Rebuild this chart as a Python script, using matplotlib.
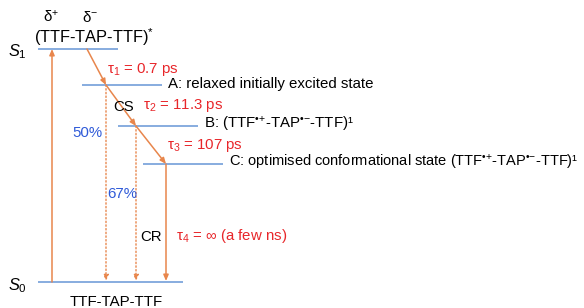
import matplotlib
matplotlib.use("Agg")
import matplotlib.pyplot as plt

plt.rcParams['font.family'] = ['Liberation Sans', 'DejaVu Sans']
plt.rcParams['mathtext.fontset'] = 'custom'
plt.rcParams['mathtext.rm'] = 'Liberation Sans'
plt.rcParams['mathtext.it'] = 'Liberation Sans:italic'
plt.rcParams['mathtext.bf'] = 'Liberation Sans:bold'

# ---- data: energy levels (energy in arbitrary units, horizontal extent) ----
level_names = ["S1", "A", "B", "C", "S0"]
level_energy = [233, 197, 156, 118, 0]
level_x0 = [38, 82, 118, 143, 38]
level_x1 = [118, 162, 198, 223, 183]
RAD = "TTF$^{\u2022{+}}$-TAP$^{\u2022{-}}$-TTF"
level_labels = ["", "A: relaxed initially excited state",
                "B: (" + RAD + ")\u00b9",
                "C: optimised conformational state (" + RAD + ")\u00b9",
                ""]
level_label_size = [10.8, 10.8, 10.8, 10.5, 10.8]

# cascade (diagonal) S1 -> A -> B -> C, x positions of the path on each level
cascade_levels = ["S1", "A", "B", "C"]
cascade_x = [87, 106, 136, 166]
rate_labels = ["\u03c4$_{1}$ = 0.7 ps", "\u03c4$_{2}$ = 11.3 ps", "\u03c4$_{3}$ = 107 ps"]

# decays to ground state: from level, style
decay_from = ["A", "B", "C"]
decay_style = [":", ":", "-"]
yields = ["50%", "67%"]
tau4_label = "\u03c4$_{4}$ = \u221e (a few ns)"

excite_x = 52

LEVEL_C = "#7ea6dc"
ARROW_C = "#e8864c"
RED = "#e8262a"
BLUE = "#2f5ad8"

fig = plt.figure(figsize=(5.84, 3.08), dpi=100)
ax = fig.add_axes([0, 0, 1, 1])
ax.set_xlim(0, 584)
ax.set_ylim(-26, 282)
ax.axis('off')

E = dict(zip(level_names, level_energy))
FS = 10.8

for name, e, x0, x1, lab, fs in zip(level_names, level_energy, level_x0, level_x1,
                                     level_labels, level_label_size):
    ax.plot([x0, x1], [e, e], color=LEVEL_C, lw=1.3, solid_capstyle='butt')
    if lab:
        ax.text(x1 + 6, e + 1, lab, fontsize=fs, va='center', ha='left', color='black')

AP = "-|>,head_length=0.35,head_width=0.15"

# excitation arrow S0 -> S1
ax.annotate("", xy=(excite_x, E["S1"]), xytext=(excite_x, E["S0"]),
            arrowprops=dict(arrowstyle=AP, color=ARROW_C, lw=1.1, shrinkA=0, shrinkB=0))

# cascade
for i in range(len(cascade_levels) - 1):
    x0, x1 = cascade_x[i], cascade_x[i + 1]
    y0, y1 = E[cascade_levels[i]], E[cascade_levels[i + 1]]
    ax.annotate("", xy=(x1, y1), xytext=(x0, y0),
                arrowprops=dict(arrowstyle=AP, color=ARROW_C, lw=1.1, shrinkA=0, shrinkB=0))

# decays to S0
cx = dict(zip(cascade_levels, cascade_x))
for name, ls in zip(decay_from, decay_style):
    ax.annotate("", xy=(cx[name], E["S0"] + 1), xytext=(cx[name], E[name]),
                arrowprops=dict(arrowstyle=AP, color=ARROW_C,
                                lw=1.0 if ls == ":" else 1.1,
                                linestyle=ls, shrinkA=0, shrinkB=0))

# rate labels
ax.text(107, 213, rate_labels[0], color=RED, fontsize=FS, va='center', ha='left')
ax.text(113, 175, "CS", color='black', fontsize=FS, va='center', ha='left')
ax.text(143, 176, rate_labels[1], color=RED, fontsize=FS, va='center', ha='left')
ax.text(167, 136, rate_labels[2], color=RED, fontsize=FS, va='center', ha='left')
ax.text(140, 45, "CR", color='black', fontsize=FS, va='center', ha='left')
ax.text(176, 46, tau4_label, color=RED, fontsize=FS, va='center', ha='left')

# yields
ax.text(102, 149, yields[0], color=BLUE, fontsize=FS, va='center', ha='right')
ax.text(137, 88, yields[1], color=BLUE, fontsize=FS, va='center', ha='right')

# state labels
ax.text(8, E["S1"] - 3, "$S_{1}$", fontsize=FS + 1, va='center', ha='left')
ax.text(8, E["S0"] - 4, "$S_{0}$", fontsize=FS + 1, va='center', ha='left')
ax.text(51, 265, "\u03b4$^{+}$", fontsize=FS, va='center', ha='center')
ax.text(90, 265, "\u03b4$^{-}$", fontsize=FS, va='center', ha='center')
ax.text(34, 245, "(TTF-TAP-TTF)$^{*}$", fontsize=FS + 1, va='center', ha='left')
ax.text(70, -20, "TTF-TAP-TTF", fontsize=FS, va='center', ha='left')

fig.savefig("out.png", dpi=100)
